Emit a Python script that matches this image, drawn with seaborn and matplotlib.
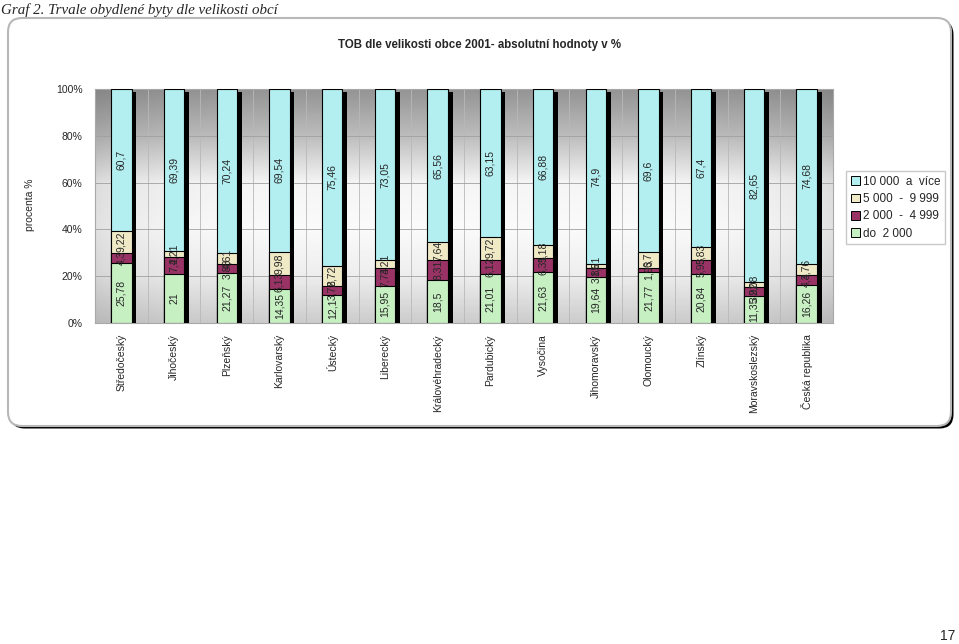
import numpy as np
import pandas as pd
import matplotlib
matplotlib.use("Agg")
import matplotlib.pyplot as plt
import matplotlib.patheffects as pe
from matplotlib.patches import FancyBboxPatch, Patch
import seaborn as sns

# data (percent of dwellings by municipality size)
kraje = ["Středočeský", "Jihočeský", "Plzeňský", "Karlovarský", "Ústecký", "Liberecký",
         "Královéhradecký", "Pardubický", "Vysočina", "Jihomoravský", "Olomoucký",
         "Zlínský", "Moravskoslezský", "Česká republika"]
do_2000 = [25.78, 21, 21.27, 14.35, 12.1, 15.95, 18.5, 21.01, 21.63, 19.64, 21.77, 20.84, 11.35, 16.26]
od_2000 = [4.3, 7.4, 3.88, 6.13, 3.72, 7.74, 8.31, 6.12, 6.31, 3.85, 1.93, 5.93, 3.92, 4.3]
od_5000 = [9.22, 2.21, 4.61, 9.98, 8.72, 3.21, 7.64, 9.72, 5.18, 1.61, 6.7, 5.83, 2.08, 4.76]
nad_10000 = [60.7, 69.39, 70.24, 69.54, 75.46, 73.05, 65.56, 63.15, 66.88, 74.9, 69.6, 67.4, 82.65, 74.68]

legenda = ["10 000  a  více", "5 000  -  9 999", "2 000  -  4 999", "do  2 000"]
barvy = ["#b3eef0", "#efe9c6", "#993366", "#c6efc2"]

sns.set_style("white")
plt.rcParams["font.family"] = ["Liberation Sans", "DejaVu Sans"]

df = pd.DataFrame({"kraj": kraje, "a": do_2000, "b": od_2000, "c": od_5000, "d": nad_10000})
df["c1"] = df["a"]
df["c2"] = df["c1"] + df["b"]
df["c3"] = df["c2"] + df["c"]
df["c4"] = df["c3"] + df["d"]

fig = plt.figure(figsize=(9.59, 6.44), dpi=100)

# background frame in pixel coordinates
bg = fig.add_axes([0, 0, 1, 1])
bg.set_xlim(0, 959)
bg.set_ylim(644, 0)
bg.axis("off")
ramecek = FancyBboxPatch((8, 18), 943, 408, boxstyle="round,pad=0,rounding_size=14",
                         facecolor="white", edgecolor="#b8b8b8", lw=1.5,
                         path_effects=[pe.SimplePatchShadow(offset=(1.8, -1.8), shadow_rgbFace="black", alpha=1),
                                       pe.Normal()])
bg.add_patch(ramecek)

ax = fig.add_axes([95 / 959, 1 - 323 / 644, (833 - 95) / 959, (323 - 89) / 644])
ax.patch.set_alpha(0)

# gray gradient behind plot area
yy = np.linspace(1, 0, 200)
g = np.interp(yy, [0, 0.2, 0.4, 0.6, 0.8, 1.0], [0.80, 0.93, 0.98, 0.96, 0.74, 0.58])
xx = np.linspace(-1, 1, 200)
gx = 1 - 0.10 * xx ** 6
img = np.clip(g[:, None] * gx[None, :], 0, 1)
ax.imshow(img, cmap="gray", vmin=0, vmax=1, extent=[0, 1, 0, 1], transform=ax.transAxes,
          aspect="auto", zorder=0)

stin = [pe.SimplePatchShadow(offset=(3.4, -2), shadow_rgbFace="black", alpha=1), pe.Normal()]
for col, barva, fx in [("c4", barvy[0], stin), ("c3", barvy[1], None),
                       ("c2", barvy[2], None), ("c1", barvy[3], None)]:
    kw = dict(path_effects=fx) if fx else {}
    sns.barplot(data=df, x="kraj", y=col, color=barva, saturation=1, width=0.385,
                edgecolor="black", linewidth=0.8, errorbar=None, ax=ax, zorder=3, **kw)

# value labels inside segments
for i in range(len(kraje)):
    dole = 0
    for v in [do_2000[i], od_2000[i], od_5000[i], nad_10000[i]]:
        ax.text(i, dole + v / 2, f"{v:g}".replace(".", ","), rotation=90, ha="center",
                va="center", fontsize=7.5, zorder=5)
        dole += v

ax.set_xlim(-0.5, len(kraje) - 0.5)
ax.set_ylim(0, 100)
ax.set_yticks(range(0, 101, 20))
ax.set_yticklabels([f"{v}%" for v in range(0, 101, 20)], fontsize=7.5)
ax.set_xticks(range(len(kraje)))
ax.set_xticklabels(kraje, rotation=90, fontsize=7.5)
ax.set_xticks(np.arange(len(kraje)) + 0.5, minor=True)
ax.tick_params(axis="x", which="both", length=0, pad=8)
ax.tick_params(axis="y", length=3, color="#909090", pad=6)
ax.grid(axis="y", which="major", color="#a0a0a0", lw=0.6, zorder=1)
ax.grid(axis="x", which="minor", color="#b8b8b8", lw=0.6, zorder=1)
ax.set_axisbelow(True)
ax.set_xlabel("")
ax.set_ylabel("")
for s in ax.spines.values():
    s.set_color("#a8a8a8")
    s.set_linewidth(0.8)

handles = [Patch(facecolor=b, edgecolor="black", lw=0.7) for b in barvy]
fig.legend(handles, legenda, loc="upper left", bbox_to_anchor=(846 / 959, 1 - 171 / 644),
           fontsize=8.5, frameon=True, fancybox=False, edgecolor="#c8c8c8", framealpha=1,
           handlelength=0.75, handleheight=0.75, handletextpad=0.3, labelspacing=0.45,
           borderpad=0.4, borderaxespad=0)

fig.text(30 / 959, 1 - 205 / 644, "procenta %", rotation=90, ha="center", va="center", fontsize=7.5)
fig.text(479 / 959, 1 - 45 / 644, "TOB dle velikosti obce 2001- absolutní hodnoty v %",
         ha="center", va="center", fontsize=8.3, weight="bold")
fig.text(1 / 959, 1 - 10 / 644, "Graf 2. Trvale obydlené byty dle velikosti obcí", ha="left",
         va="center", fontsize=10.8, style="italic", family=["Liberation Serif", "DejaVu Serif"])
fig.text(955 / 959, 1 - 636 / 644, "17", ha="right", va="center", fontsize=10)

fig.savefig("out.png", dpi=100)
